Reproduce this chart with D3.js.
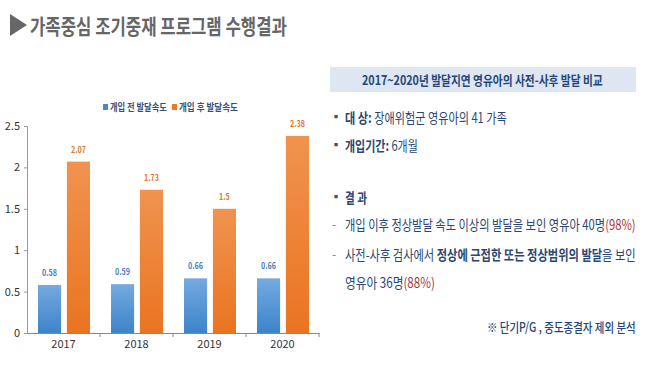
<!DOCTYPE html>
<html>
<head>
<meta charset="utf-8">
<script src="https://cdn.jsdelivr.net/npm/d3@7"></script>
<style>
  body { margin: 0; background: #fff; }
  text { font-family: "Noto Sans CJK KR", "Noto Sans", sans-serif; }
</style>
</head>
<body>
<svg id="chart" width="645" height="370"></svg>
<script>
const years = ["2017", "2018", "2019", "2020"];
const series = ["개입 전 발달속도", "개입 후 발달속도"];
const before = [0.58, 0.59, 0.66, 0.66];
const after = [2.07, 1.73, 1.5, 2.38];
const yTicks = [0, 0.5, 1, 1.5, 2, 2.5];

const svg = d3.select("#chart");
const navy = "#2b4670";

// squeeze a text horizontally so it spans the given width from its x
function fitWidth(sel, x, w) {
  let natural = sel.node().getComputedTextLength();
  let k = w / natural;
  sel.attr("transform", `translate(${x},0) scale(${k},1) translate(${-x},0)`);
}

// gradients
const defs = svg.append("defs");
const grads = [
  { id: "gBlue", top: "#74aae0", bot: "#3d83ca" },
  { id: "gOrange", top: "#f0934f", bot: "#ea7420" }
];
grads.forEach((g) => {
  let lg = defs.append("linearGradient").attr("id", g.id)
    .attr("x1", 0).attr("y1", 0).attr("x2", 0).attr("y2", 1);
  lg.append("stop").attr("offset", "0%").attr("stop-color", g.top);
  lg.append("stop").attr("offset", "100%").attr("stop-color", g.bot);
});

// title
svg.append("path").attr("d", "M10,14 L27,25 L10,36 Z").attr("fill", "#666");
let title = svg.append("text").attr("x", 30).attr("y", 34)
  .attr("font-size", 21).attr("font-weight", 700).attr("fill", "#666")
  .text("가족중심 조기중재 프로그램 수행결과");
fitWidth(title, 30, 257);

// chart
const x0 = d3.scaleBand().domain(years).range([27, 319]);
const x1 = d3.scaleBand().domain([0, 1]).range([11, 63]).paddingInner(0.2);
const y = d3.scaleLinear().domain([0, 2.5]).range([333, 126]);

const yAxisG = svg.append("g").attr("transform", "translate(27,0)")
  .call(d3.axisLeft(y).tickValues(yTicks).tickSize(3).tickFormat((d) => d));
yAxisG.select(".domain").attr("stroke", "#999");
yAxisG.selectAll(".tick line").attr("stroke", "#999");
yAxisG.selectAll(".tick text").attr("font-size", 11).attr("fill", "#333").attr("x", -7);

const xAxisG = svg.append("g").attr("transform", "translate(0,333)")
  .call(d3.axisBottom(x0).tickSize(0).tickSizeOuter(0));
xAxisG.select(".domain").attr("stroke", "#888");
xAxisG.selectAll(".tick text").attr("font-size", 11).attr("fill", "#333").attr("dy", "1.1em");
xAxisG.selectAll("line.sep").data(years).join("line").classed("sep", true)
  .attr("x1", (d) => x0(d) + x0.bandwidth()).attr("x2", (d) => x0(d) + x0.bandwidth())
  .attr("y1", 0).attr("y2", 4).attr("stroke", "#888");

const rows = [];
years.forEach((yr, i) => {
  rows.push({ year: yr, s: 0, v: before[i] });
  rows.push({ year: yr, s: 1, v: after[i] });
});

svg.append("g").selectAll("rect").data(rows).join("rect")
  .attr("x", (d) => x0(d.year) + x1(d.s))
  .attr("width", x1.bandwidth())
  .attr("y", (d) => y(d.v))
  .attr("height", (d) => y(0) - y(d.v))
  .attr("fill", (d) => d.s === 0 ? "url(#gBlue)" : "url(#gOrange)");

svg.append("g").selectAll("text").data(rows).join("text")
  .attr("x", (d) => x0(d.year) + x1(d.s) + x1.bandwidth() / 2)
  .attr("y", (d) => y(d.v) - 9)
  .attr("text-anchor", "middle")
  .attr("font-size", 9).attr("font-weight", 700)
  .attr("fill", (d) => d.s === 0 ? "#4b80c0" : "#e2772a")
  .attr("transform", (d) => {
    let cx = x0(d.year) + x1(d.s) + x1.bandwidth() / 2;
    return `translate(${cx},0) scale(0.8,1) translate(${-cx},0)`;
  })
  .text((d) => d.v);

// legend
const legend = [
  { x: 103, color: "#4a86c8", w: 57 },
  { x: 172, color: "#ec7a2a", w: 59 }
];
legend.forEach((l, i) => {
  svg.append("rect").attr("x", l.x).attr("y", 104).attr("width", 5).attr("height", 6).attr("fill", l.color);
  let lt = svg.append("text").attr("x", l.x + 7).attr("y", 111)
    .attr("font-size", 10).attr("font-weight", 700).attr("fill", "#3a5072")
    .text(series[i]);
  fitWidth(lt, l.x + 7, l.w);
});

// right panel
svg.append("rect").attr("x", 330).attr("y", 67).attr("width", 306).attr("height", 25).attr("fill", "#dde6f1");
let head = svg.append("text").attr("x", 362).attr("y", 85)
  .attr("font-size", 13).attr("font-weight", 700).attr("fill", "#23457a")
  .text("2017~2020년 발달지연 영유아의 사전-사후 발달 비교");
fitWidth(head, 362, 241);

const lines = [
  { y: 123, mark: "▪", len: 162, parts: [["대 상:", 700, navy], [" 장애위험군 영유아의 41 가족", 400, navy]] },
  { y: 151, mark: "▪", len: 73, parts: [["개입기간:", 700, navy], [" 6개월", 400, navy]] },
  { y: 203, mark: "▪", len: 22, parts: [["결 과", 700, navy]] },
  { y: 230, mark: "-", len: 291, parts: [["개입 이후 정상발달 속도 이상의 발달을 보인 영유아 40명", 400, navy], ["(98%)", 400, "#b03436"]] },
  { y: 260, mark: "-", len: 291, parts: [["사전-사후 검사에서 ", 400, navy], ["정상에 근접한 또는 정상범위의 발달", 700, navy], ["을 보인", 400, navy]] },
  { y: 288, mark: null, len: 90, parts: [["영유아 36명", 400, navy], ["(88%)", 400, "#b03436"]] }
];
lines.forEach((ln) => {
  if (ln.mark === "▪") {
    svg.append("text").attr("x", 330).attr("y", ln.y - 1)
      .attr("font-size", 12).attr("font-weight", 700).attr("fill", "#4a4f5a").text(ln.mark);
  } else if (ln.mark) {
    svg.append("text").attr("x", 332).attr("y", ln.y - 1)
      .attr("font-size", 12).attr("fill", "#7a7f88").text(ln.mark);
  }
  let t = svg.append("text").attr("x", 345).attr("y", ln.y)
    .attr("font-size", 14);
  ln.parts.forEach((p) => {
    t.append("tspan").attr("font-weight", p[1]).attr("fill", p[2]).text(p[0]);
  });
  fitWidth(t, 345, ln.len);
});

let note = svg.append("text").attr("x", 487).attr("y", 332)
  .attr("font-size", 13).attr("font-weight", 500).attr("fill", "#23457a")
  .text("※ 단기P/G , 중도종결자 제외 분석");
fitWidth(note, 487, 149);
</script>
</body>
</html>
